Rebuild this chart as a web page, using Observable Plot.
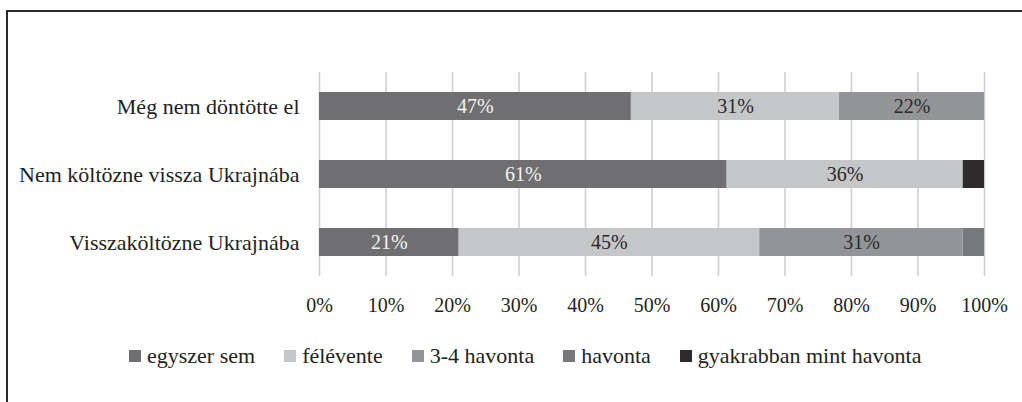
<!DOCTYPE html>
<html>
<head>
<meta charset="utf-8">
<script src="https://cdn.jsdelivr.net/npm/d3@7"></script>
<script src="https://cdn.jsdelivr.net/npm/@observablehq/plot@0.6"></script>
<style>
  html, body { margin: 0; padding: 0; background: #fff; }
  #wrap { position: relative; width: 1022px; height: 402px; overflow: hidden; font-family: "Liberation Serif", serif; color: #231f20; }
  #frame { position: absolute; left: 6px; top: 10px; right: 0; bottom: 0; border-top: 2px solid #2a2a2a; border-left: 2px solid #2a2a2a; }
  #chart { position: absolute; left: 0; top: 0; }
  #legend { position: absolute; left: 129px; top: 344px; display: flex; align-items: center; gap: 29px; font-size: 22px; line-height: 24px; white-space: nowrap; }
  .item { display: flex; align-items: center; }
  .sw { width: 12px; height: 12px; margin-right: 6px; }
</style>
</head>
<body>
<div id="wrap">
  <div id="frame"></div>
  <div id="chart"></div>
  <div id="legend"></div>
</div>
<script>
const rows = ["Még nem döntötte el", "Nem költözne vissza Ukrajnába", "Visszaköltözne Ukrajnába"];
const categories = ["egyszer sem", "félévente", "3-4 havonta", "havonta", "gyakrabban mint havonta"];
const colors = ["#6f6f72", "#c5c6c8", "#939497", "#77787b", "#2d2b2c"];
// values per row, in category order (percent)
const megNemDontotteEl = [46.9, 31.3, 21.8, 0, 0];
const nemKoltozneVissza = [61.3, 35.5, 0, 0, 3.2];
const visszakoltozne = [21.0, 45.2, 30.6, 3.2, 0];
const xTicks = [0, 10, 20, 30, 40, 50, 60, 70, 80, 90, 100];
const lightLabelCats = ["egyszer sem", "havonta", "gyakrabban mint havonta"];

const rowValues = [megNemDontotteEl, nemKoltozneVissza, visszakoltozne];
const data = [];
rows.forEach((r, i) => categories.forEach((c, j) => data.push({row: r, cat: c, value: rowValues[i][j]})));

const label = d => d.value >= 5 ? Math.round(d.value) + "%" : "";

const chart = Plot.plot({
  width: 1022,
  height: 330,
  marginTop: 72,
  marginBottom: 54,
  marginLeft: 319,
  marginRight: 38,
  style: {fontFamily: "Liberation Serif, serif", fontSize: "20px", color: "#231f20", background: "transparent"},
  x: {domain: [0, 100], ticks: xTicks, tickFormat: d => d + "%"},
  y: {domain: rows, paddingInner: 0.588, paddingOuter: 0.294},
  color: {domain: categories, range: colors},
  marks: [
    Plot.ruleX(xTicks, {stroke: "#d0d0d0", strokeWidth: 1.6}),
    Plot.barX(data, Plot.stackX({x: "value", y: "row", fill: "cat"})),
    Plot.text(data, Plot.stackX({x: "value", y: "row", text: d => lightLabelCats.includes(d.cat) ? label(d) : "", fill: "#f2f2f2", fontSize: 20})),
    Plot.text(data, Plot.stackX({x: "value", y: "row", text: d => lightLabelCats.includes(d.cat) ? "" : label(d), fill: "#2a2a2a", fontSize: 20})),
    Plot.axisX({ticks: xTicks, tickFormat: d => d + "%", tickSize: 0, tickPadding: 21, label: null, fontSize: 20, fill: "#231f20"}),
    Plot.axisY({tickSize: 0, tickPadding: 20, label: null, fontSize: 22, fill: "#231f20"})
  ]
});
document.getElementById("chart").appendChild(chart);

const legend = document.getElementById("legend");
categories.forEach((c, i) => {
  const item = document.createElement("div");
  item.className = "item";
  const sw = document.createElement("span");
  sw.className = "sw";
  sw.style.background = colors[i];
  const t = document.createElement("span");
  t.textContent = c;
  item.appendChild(sw);
  item.appendChild(t);
  legend.appendChild(item);
});
</script>
</body>
</html>
